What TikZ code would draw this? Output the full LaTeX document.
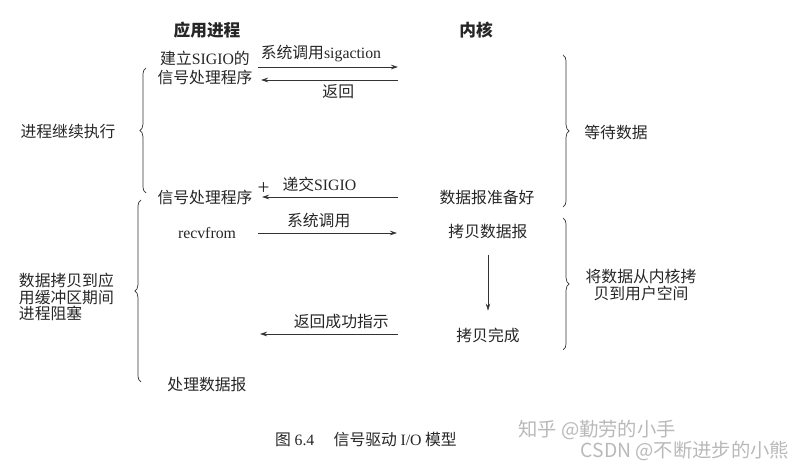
\documentclass[tikz,border=0pt]{standalone}
\usepackage{fontspec}
\setmainfont{Liberation Serif}
\newfontfamily\cjk{Noto Sans CJK SC}
\usepackage{tikz}
\usetikzlibrary{arrows.meta, positioning, decorations.pathreplacing}
\tikzset{
  lbl/.style  = {font=\cjk\fontsize{9}{11}\selectfont, inner sep=1.5pt,
                 align=center, text=black!85},
  hdr/.style  = {lbl, font=\cjk\bfseries\fontsize{9.5}{11}\selectfont},
  arr/.style  = {-{Stealth[length=4pt,width=2.6pt]}, thin, black!80},
  brc/.style  = {decorate, decoration={brace, amplitude=3.5pt}, thin, black!80},
  wm/.style   = {font=\cjk\fontsize{11}{13}\selectfont, text=gray!55},
}

\begin{document}
\begin{tikzpicture}[x=0.02cm, y=-0.02cm]
  \useasboundingbox (0,0) rectangle (802,469);

  %% Column heads
  \node[hdr] (app)  at (207,30) {应用进程};
  \node[hdr] (kern) at (476,30) {内核};

  %% Application column
  \node[lbl] (setup)  at (205,68)  {建立{\rmfamily SIGIO}的\\信号处理程序};
  \node[lbl] (sighdl) at (205,197) {信号处理程序};
  \node[lbl] (recv)   at (207,233) {\rmfamily recvfrom};
  \node[lbl] (proc)   at (207,385) {处理数据报};

  %% Kernel column
  \node[lbl] (ready) at (487,197) {数据报准备好};
  \node[lbl] (kcopy) at (488,232) {拷贝数据报};
  \node[lbl] (kdone) at (488,335) {拷贝完成};

  %% Side notes
  \node[lbl] (cont) at (68,132) {进程继续执行};
  \node[lbl, align=left, anchor=west,
        font=\cjk\fontsize{9}{9.4}\selectfont] (block) at (16,297)
        {数据拷贝到应\\用缓冲区期间\\进程阻塞};
  \node[lbl] (wait) at (616,132) {等待数据};
  \node[lbl, font=\cjk\fontsize{9}{9.6}\selectfont] (tocopy) at (641,285)
        {将数据从内核拷\\贝到用户空间};

  %% Arrow ends
  \coordinate (u1) at (258,67);  \coordinate (k1) at (398,67);
  \coordinate (u2) at (261,80);  \coordinate (k2) at (398,80);
  \coordinate (u3) at (262,197); \coordinate (k3) at (398,197);
  \coordinate (u4) at (258,233); \coordinate (k4) at (397,233);
  \coordinate (u5) at (260,334); \coordinate (k5) at (398,334);

  %% Arrows
  \draw[arr] (u1) -- node[lbl, above=1pt, xshift=-4] {系统调用{\rmfamily sigaction}} (k1);
  \draw[arr] (k2) -- node[lbl, below=1pt, xshift=5] {返回} (u2);
  \draw[arr] (k3) -- node[lbl, above=1pt, xshift=-6] (deliv) {递交{\rmfamily SIGIO}} (u3);
  \node[lbl, font=\rmfamily\fontsize{12}{12}\selectfont,
        left=4pt of deliv, yshift=-2] (plus) {+};
  \draw[arr] (u4) -- node[lbl, above=1pt, xshift=-5] {系统调用} (k4);
  \draw[arr, shorten <=7pt, shorten >=8pt] (kcopy) -- (kdone);
  \draw[arr] (k5) -- node[lbl, above=1pt, xshift=7] {返回成功指示} (u5);

  %% Braces
  \draw[brc] (146,193) -- (146,68);
  \draw[brc] (141,382) -- (141,200);
  \draw[brc] (563,55)  -- (563,207);
  \draw[brc] (563,218) -- (563,350);

  %% Caption and marks
  \node[lbl] (cap) at (366,440)
        {图\ {\rmfamily 6.4}\quad\ 信号驱动\ {\rmfamily I/O}\ 模型};
  \node[wm] (zh)   at (597,430) {知乎 @勤劳的小手};
  \node[wm] (csdn) at (685,451) {CSDN @不断进步的小熊};

\end{tikzpicture}
\end{document}
